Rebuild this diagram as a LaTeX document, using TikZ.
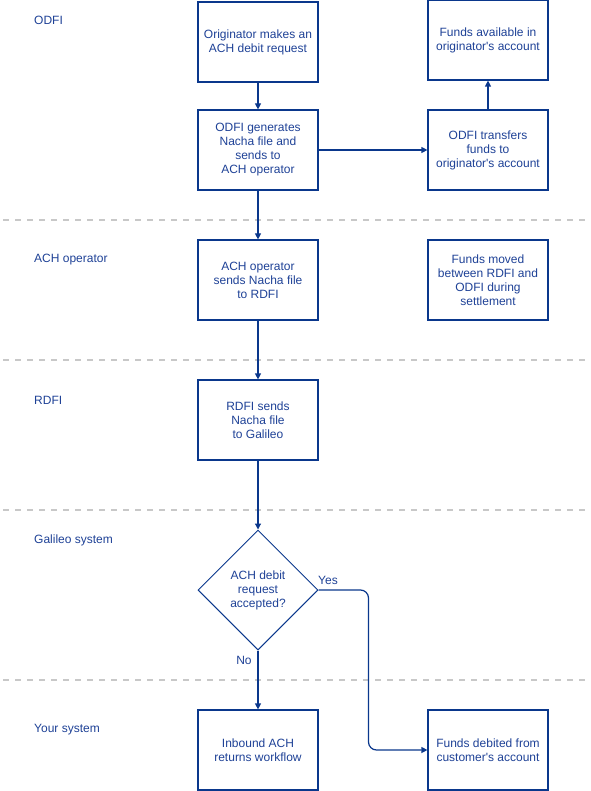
\documentclass[tikz,border=0pt]{standalone}
\usepackage{fontspec}
\newfontfamily\diafont{Liberation Sans}
\usetikzlibrary{shapes.geometric,arrows.meta}
\definecolor{navy}{RGB}{10,55,140}
\definecolor{txt}{RGB}{30,65,150}
\definecolor{sep}{RGB}{200,200,200}
\tikzset{
  stepbox/.style={draw=navy, line width=1.2pt, minimum width=120pt, minimum height=80pt,
    align=center, text=txt, font=\diafont\fontsize{12}{14}\selectfont, inner sep=0pt},
  decbox/.style={draw=navy, line width=1.0pt, shape=diamond, aspect=1, minimum width=120pt,
    minimum height=120pt, align=center, text=txt, font=\diafont\fontsize{12}{14}\selectfont, inner sep=0pt},
  lane/.style={anchor=west, text=txt, font=\diafont\fontsize{12}{14}\selectfont, inner sep=0pt},
  lbl/.style={text=txt, font=\diafont\fontsize{12}{14}\selectfont, inner sep=0pt},
  flow/.style={draw=navy, line width=1.2pt, -{Triangle[width=6pt,length=6pt]}},
  sepline/.style={draw=sep, line width=1.8pt, dash pattern=on 6pt off 6pt, dash phase=-3pt}
}
\begin{document}
\begin{tikzpicture}[x=1pt,y=-1pt]
\useasboundingbox (0,0) rectangle (590,791);
% separators
\draw[sepline] (0,220) -- (590,220);
\draw[sepline] (0,360) -- (590,360);
\draw[sepline] (0,510) -- (590,510);
\draw[sepline] (0,680) -- (590,680);
% lane labels
\node[lane] (l1) at (34,20) {ODFI};
\node[lane] (l2) at (34,260) {ACH operator};
\node[lane] (l3) at (34,400) {RDFI};
\node[lane] (l4) at (34,540) {Galileo system};
\node[lane] (l5) at (34,730) {Your system};
% nodes
\node[stepbox] (a) at (258,42) {Originator makes an\\ACH debit request};
\node[stepbox] (b) at (258,150) {ODFI generates\\Nacha file and\\sends to\\ACH operator};
\node[stepbox] (c) at (488,150) {ODFI transfers\\funds to\\originator's account};
\node[stepbox] (d) at (488,40) {Funds available in\\originator's account};
\node[stepbox] (e) at (258,280) {ACH operator\\sends Nacha file\\to RDFI};
\node[stepbox] (f) at (488,280) {Funds moved\\between RDFI and\\ODFI during\\settlement};
\node[stepbox] (g) at (258,420) {RDFI sends\\Nacha file\\to Galileo};
\node[decbox] (h) at (258,590) {ACH debit\\request\\accepted?};
\node[stepbox] (i) at (258,750) {Inbound ACH\\returns workflow};
\node[stepbox] (j) at (488,750) {Funds debited from\\customer's account};
% connectors
\draw[flow] (a) -- (b);
\draw[flow] (b) -- (c);
\draw[flow] (c) -- (d);
\draw[flow] (b) -- (e);
\draw[flow] (e) -- (g);
\draw[flow] (g) -- (h);
\draw[flow] (h) -- (i);
\draw[flow, rounded corners=8pt] (h.east) -- ++(50,0) |- (j.west);
\node[lbl] (yes) at (328,580) {Yes};
\node[lbl] (no) at (244,660) {No};
\end{tikzpicture}
\end{document}
